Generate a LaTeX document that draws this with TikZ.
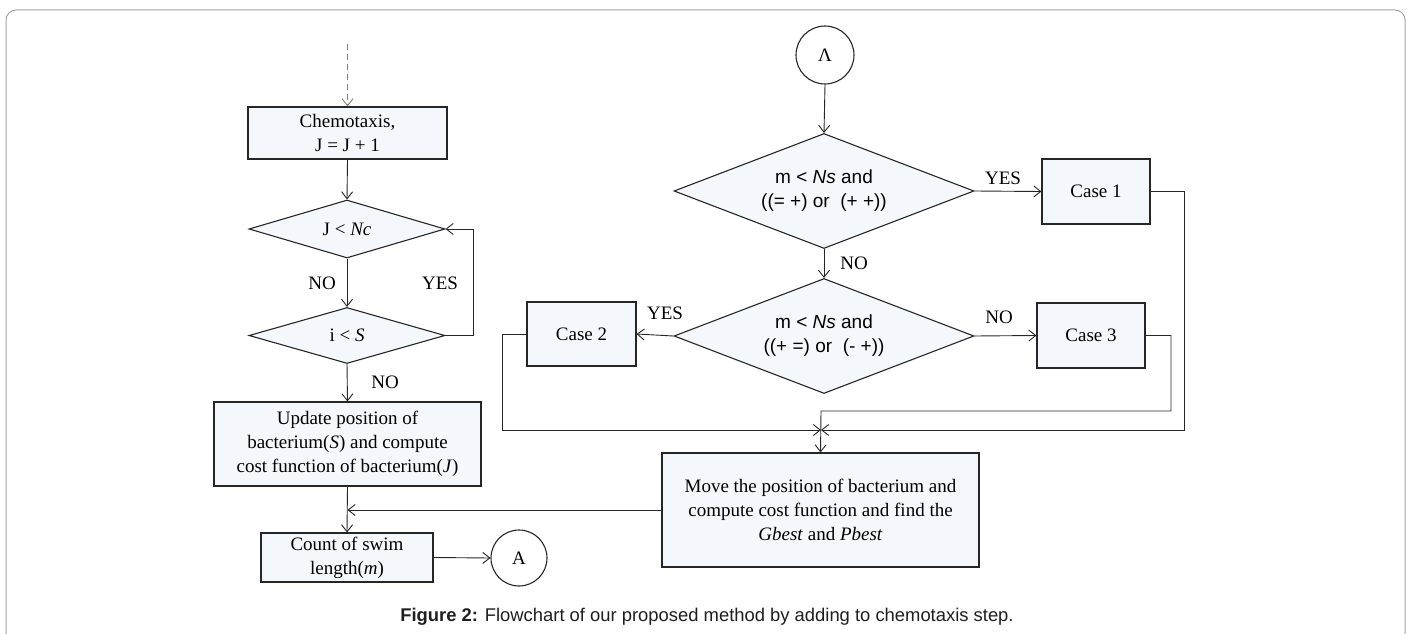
\documentclass[tikz,border=0pt]{standalone}
\usepackage{fontspec}
\setmainfont{Liberation Serif}
\newfontfamily\arial{Liberation Sans}
\usetikzlibrary{shapes.geometric,arrows.meta}
\definecolor{boxfill}{RGB}{244,248,252}
\definecolor{framegray}{RGB}{165,165,165}
\definecolor{capcol}{RGB}{30,30,30}
\begin{document}
\begin{tikzpicture}[x=1pt,y=-1pt,
  every node/.style={font=\fontsize{19}{24}\selectfont},
  proc/.style={draw=black!85,line width=1.1pt,fill=boxfill,rectangle,inner sep=0pt,align=center},
  dec/.style={draw=black!85,line width=1.1pt,fill=boxfill,diamond,inner sep=0pt,align=center},
  conn/.style={draw=black!85,line width=1.1pt,circle,inner sep=0pt,minimum size=57pt},
  flow/.style={draw=black!85,line width=0.9pt,-{Straight Barb[length=7pt,width=11pt]}},
  line/.style={draw=black!85,line width=0.9pt},
  lab/.style={inner sep=0pt}]
\useasboundingbox (0,0) rectangle (1413,634);
\begin{scope}
\clip (0,0) rectangle (1413,634);
\draw[framegray,line width=1pt,rounded corners=10pt] (6,10) rectangle (1405,660);
\end{scope}

% left column
\coordinate (dtop) at (347.5,44);
\node[proc,minimum width=199pt,minimum height=52pt] (chemo) at (347.5,133) {Chemotaxis,\\J = J + 1};
\node[dec,shape aspect=3.4,minimum width=196pt,minimum height=58pt] (jnc) at (347,229) {J < \textit{Nc}};
\node[dec,shape aspect=3.5,minimum width=196pt,minimum height=56pt] (is) at (347,335.5) {i < \textit{S}};
\node[proc,minimum width=267pt,minimum height=84pt] (upd) at (347.5,444) {Update position of\\bacterium(\textit{S}) and compute\\cost function of bacterium(\textit{J})};
\node[proc,minimum width=172pt,minimum height=49pt] (cnt) at (347,557.5) {Count of swim\\length(\textit{m})};
\node[conn,minimum size=56pt] (abot) at (519,558) {A};

% right part
\node[conn,minimum size=58pt] (atop) at (825,55) {Λ};
\node[dec,shape aspect=2.6,minimum width=300pt,minimum height=115pt] (d1) at (824,191) {\arial m < \textit{Ns} and\\\arial ((= +) or\ \ (+ +))};
\node[proc,minimum width=108pt,minimum height=65pt] (case1) at (1096,191.5) {Case 1};
\node[dec,shape aspect=2.6,minimum width=300pt,minimum height=115pt] (d2) at (824,336) {\arial m < \textit{Ns} and\\\arial ((+ =) or\ \ (- +))};
\node[proc,minimum width=109pt,minimum height=64pt] (case2) at (581.5,334) {Case 2};
\node[proc,minimum width=108pt,minimum height=65pt] (case3) at (1091,335.5) {Case 3};
\node[proc,minimum width=317pt,minimum height=114pt] (move) at (820.5,510) {Move the position of bacterium and\\compute cost function and find the\\\textit{Gbest} and \textit{Pbest}};
\coordinate (jA) at (821,430);
\coordinate (jB) at (821,411);

% left connectors
\draw[flow,draw=gray,dash pattern=on 6pt off 4pt] (dtop) -- (chemo.north);
\draw[flow] (chemo.south) -- (jnc.north);
\draw[flow] (jnc.south) -- (is.north);
\draw[flow] (is.east) -- (473,335.5) -- (473,229) -- (jnc.east);
\draw[flow] (is.south) -- (upd.north);
\draw[flow] (upd.south) -- (cnt.north);
\draw[flow] (move.west) -- (upd.south |- move.west);
\draw[flow] (cnt.east) -- (abot.west);
\node[lab] at (322,283) {NO};
\node[lab] at (440,283) {YES};
\node[lab] at (385,382) {NO};

% right connectors
\draw[flow] (atop.south) -- (d1.north);
\draw[flow] (d1.east) -- (case1.west);
\draw[flow] (d1.south) -- (d2.north);
\draw[flow] (d2.west) -- (case2.east);
\draw[flow] (d2.east) -- (case3.west);
\draw[flow] (case2.west) -- (502,334) -- (502,430) -- (jA);
\draw[flow] (case1.east) -- (1184,191.5) -- (1184,430) -- (jA);
\draw[flow] (case3.east) -- (1171,335.5) -- (1171,411) -- (jB) -- (move.north);
\node[lab] at (1003,178) {YES};
\node[lab] at (854,263) {NO};
\node[lab] at (665,313) {YES};
\node[lab] at (999,317) {NO};

% caption
\node[lab,font=\arial\fontsize{18.4}{21}\selectfont,text=capcol] (cap) at (707,617) {\textbf{Figure 2:} Flowchart of our proposed method by adding to chemotaxis step.};
\end{tikzpicture}
\end{document}
